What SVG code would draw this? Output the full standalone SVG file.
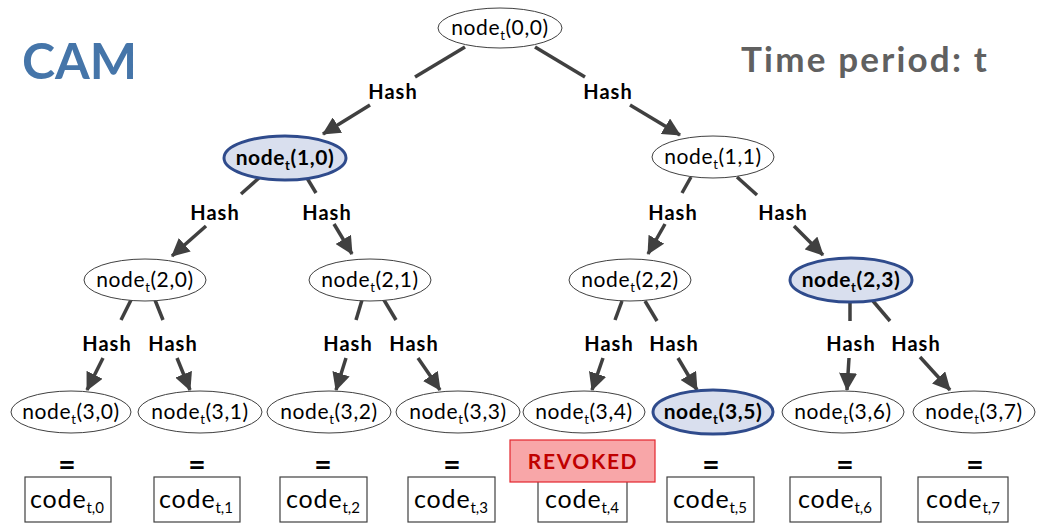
<svg xmlns="http://www.w3.org/2000/svg" width="1037" height="524" viewBox="0 0 1037 524">
  <style>
    .ell { fill: #ffffff; stroke: #404040; stroke-width: 1; }
    .hl { fill: #d9dfee; stroke: #2f4b8c; stroke-width: 3; }
    .nt { font-family: Lato, "Liberation Sans", sans-serif; font-size: 21px; fill: #000; text-anchor: middle; letter-spacing: 0.6px; }
    .nb { font-family: Lato, "Liberation Sans", sans-serif; font-size: 21px; font-weight: bold; fill: #000; text-anchor: middle; letter-spacing: 0.6px; }
    .sub { font-size: 13px; }
    .lbl { font-family: Lato, "Liberation Sans", sans-serif; font-size: 20px; font-weight: bold; fill: #000; text-anchor: middle; letter-spacing: 1px; }
    .eq { font-family: Lato, "Liberation Sans", sans-serif; font-size: 30px; font-weight: bold; fill: #000; text-anchor: middle; }
    .box { fill: #ffffff; stroke: #404040; stroke-width: 1.2; }
    .ct { font-family: Lato, "Liberation Sans", sans-serif; font-size: 25px; fill: #000; text-anchor: middle; letter-spacing: 0.8px; }
    .cs { font-size: 15px; letter-spacing: 0; }
    .edge { stroke: #404040; stroke-width: 3.5; fill: none; }
    .arr { stroke: #404040; stroke-width: 3.5; fill: none; marker-end: url(#head); }
  </style>
  <defs>
    <marker id="head" markerUnits="userSpaceOnUse" markerWidth="20" markerHeight="18" refX="17" refY="9" orient="auto">
      <path d="M0,0 L18,9 L0,18 z" fill="#404040"/>
    </marker>
  </defs>

  <rect width="1037" height="524" fill="#ffffff"/>

  <!-- headings -->
  <text x="22" y="79" font-family="Lato, 'Liberation Sans', sans-serif" font-size="50" font-weight="bold" fill="#4575a9">CAM</text>
  <text x="741" y="72" font-family="Lato, 'Liberation Sans', sans-serif" font-size="35" font-weight="bold" fill="#606060" letter-spacing="2.2">Time period: t</text>

  <!-- connectors -->
  <g id="connectors">
    <!-- level 0 to 1 -->
    <line class="edge" x1="465" y1="47" x2="415" y2="77"/>
    <line class="arr" x1="370" y1="105" x2="323" y2="134"/>
    <text class="lbl" x="393" y="99">Hash</text>
    <line class="edge" x1="535" y1="47" x2="585" y2="77"/>
    <line class="arr" x1="630" y1="105" x2="680" y2="135"/>
    <text class="lbl" x="608" y="99">Hash</text>

    <!-- level 1 to 2 -->
    <line class="edge" x1="259" y1="178" x2="241" y2="194"/>
    <line class="arr" x1="206" y1="226" x2="172" y2="256"/>
    <text class="lbl" x="215" y="220">Hash</text>
    <line class="edge" x1="307" y1="178" x2="316" y2="193"/>
    <line class="arr" x1="334" y1="224" x2="352" y2="254"/>
    <text class="lbl" x="327" y="220">Hash</text>
    <line class="edge" x1="691" y1="177" x2="682" y2="193"/>
    <line class="arr" x1="665" y1="224" x2="648" y2="254"/>
    <text class="lbl" x="673" y="220">Hash</text>
    <line class="edge" x1="737" y1="177" x2="757" y2="195"/>
    <line class="arr" x1="794" y1="226" x2="823" y2="255"/>
    <text class="lbl" x="783" y="220">Hash</text>

    <!-- level 2 to 3 -->
    <line class="edge" x1="131" y1="300" x2="121" y2="320"/>
    <line class="arr" x1="103" y1="358" x2="87" y2="390"/>
    <text class="lbl" x="107" y="351">Hash</text>
    <line class="edge" x1="155" y1="300" x2="163" y2="320"/>
    <line class="arr" x1="177" y1="358" x2="190" y2="390"/>
    <text class="lbl" x="173" y="351">Hash</text>
    <line class="edge" x1="362" y1="300" x2="356" y2="320"/>
    <line class="arr" x1="346" y1="358" x2="336" y2="390"/>
    <text class="lbl" x="348" y="351">Hash</text>
    <line class="edge" x1="384" y1="300" x2="396" y2="320"/>
    <line class="arr" x1="418" y1="358" x2="440" y2="390"/>
    <text class="lbl" x="414" y="351">Hash</text>
    <line class="edge" x1="622" y1="301" x2="615" y2="320"/>
    <line class="arr" x1="603" y1="358" x2="592" y2="390"/>
    <text class="lbl" x="609" y="351">Hash</text>
    <line class="edge" x1="645" y1="301" x2="657" y2="321"/>
    <line class="arr" x1="678" y1="358" x2="697" y2="390"/>
    <text class="lbl" x="674" y="351">Hash</text>
    <line class="edge" x1="850" y1="301" x2="850" y2="321"/>
    <line class="arr" x1="849" y1="358" x2="847" y2="390"/>
    <text class="lbl" x="851" y="351">Hash</text>
    <line class="edge" x1="873" y1="301" x2="890" y2="321"/>
    <line class="arr" x1="920" y1="357" x2="950" y2="390"/>
    <text class="lbl" x="916" y="351">Hash</text>
  </g>

  <!-- tree nodes -->
  <g id="n00"><ellipse class="ell" cx="500" cy="28" rx="62" ry="20"/><text class="nt" x="500" y="35">node<tspan class="sub" dy="5">t</tspan><tspan dy="-5">(0,0)</tspan></text></g>
  <g id="n10"><ellipse class="hl" cx="285" cy="158" rx="61" ry="22"/><text class="nb" x="285" y="165">node<tspan class="sub" dy="5">t</tspan><tspan dy="-5">(1,0)</tspan></text></g>
  <g id="n11"><ellipse class="ell" cx="713" cy="157" rx="61" ry="21"/><text class="nt" x="713" y="164">node<tspan class="sub" dy="5">t</tspan><tspan dy="-5">(1,1)</tspan></text></g>

  <g id="n20"><ellipse class="ell" cx="145" cy="280" rx="61" ry="21"/><text class="nt" x="145" y="287">node<tspan class="sub" dy="5">t</tspan><tspan dy="-5">(2,0)</tspan></text></g>
  <g id="n21"><ellipse class="ell" cx="370" cy="280" rx="61" ry="21"/><text class="nt" x="370" y="287">node<tspan class="sub" dy="5">t</tspan><tspan dy="-5">(2,1)</tspan></text></g>
  <g id="n22"><ellipse class="ell" cx="630" cy="280" rx="61" ry="21"/><text class="nt" x="630" y="287">node<tspan class="sub" dy="5">t</tspan><tspan dy="-5">(2,2)</tspan></text></g>
  <g id="n23"><ellipse class="hl" cx="851" cy="280" rx="61" ry="22"/><text class="nb" x="851" y="287">node<tspan class="sub" dy="5">t</tspan><tspan dy="-5">(2,3)</tspan></text></g>

  <g id="n30"><ellipse class="ell" cx="71" cy="412" rx="60" ry="21"/><text class="nt" x="71" y="419">node<tspan class="sub" dy="5">t</tspan><tspan dy="-5">(3,0)</tspan></text></g>
  <g id="n31"><ellipse class="ell" cx="200" cy="412" rx="62" ry="21"/><text class="nt" x="200" y="419">node<tspan class="sub" dy="5">t</tspan><tspan dy="-5">(3,1)</tspan></text></g>
  <g id="n32"><ellipse class="ell" cx="329" cy="412" rx="62" ry="21"/><text class="nt" x="329" y="419">node<tspan class="sub" dy="5">t</tspan><tspan dy="-5">(3,2)</tspan></text></g>
  <g id="n33"><ellipse class="ell" cx="458" cy="412" rx="62" ry="21"/><text class="nt" x="458" y="419">node<tspan class="sub" dy="5">t</tspan><tspan dy="-5">(3,3)</tspan></text></g>
  <g id="n34"><ellipse class="ell" cx="584" cy="412" rx="61" ry="21"/><text class="nt" x="584" y="419">node<tspan class="sub" dy="5">t</tspan><tspan dy="-5">(3,4)</tspan></text></g>
  <g id="n35"><ellipse class="hl" cx="713" cy="412" rx="60" ry="22"/><text class="nb" x="713" y="419">node<tspan class="sub" dy="5">t</tspan><tspan dy="-5">(3,5)</tspan></text></g>
  <g id="n36"><ellipse class="ell" cx="843" cy="412" rx="61" ry="21"/><text class="nt" x="843" y="419">node<tspan class="sub" dy="5">t</tspan><tspan dy="-5">(3,6)</tspan></text></g>
  <g id="n37"><ellipse class="ell" cx="974" cy="412" rx="61" ry="21"/><text class="nt" x="974" y="419">node<tspan class="sub" dy="5">t</tspan><tspan dy="-5">(3,7)</tspan></text></g>

  <!-- equals signs -->
  <g id="equals">
    <text class="eq" x="67" y="475">=</text>
    <text class="eq" x="197" y="475">=</text>
    <text class="eq" x="323" y="475">=</text>
    <text class="eq" x="452" y="475">=</text>
    <text class="eq" x="711" y="475">=</text>
    <text class="eq" x="845" y="475">=</text>
    <text class="eq" x="975" y="475">=</text>
  </g>

  <!-- leaf codes -->
  <g id="c0"><rect class="box" x="25" y="477" width="86" height="45"/><text class="ct" x="67" y="508">code<tspan class="cs" dy="5">t,0</tspan></text></g>
  <g id="c1"><rect class="box" x="154" y="477" width="86" height="45"/><text class="ct" x="196" y="508">code<tspan class="cs" dy="5">t,1</tspan></text></g>
  <g id="c2"><rect class="box" x="280" y="477" width="87" height="45"/><text class="ct" x="323" y="508">code<tspan class="cs" dy="5">t,2</tspan></text></g>
  <g id="c3"><rect class="box" x="408" y="477" width="87" height="45"/><text class="ct" x="451" y="508">code<tspan class="cs" dy="5">t,3</tspan></text></g>
  <g id="c4"><rect class="box" x="538" y="477" width="89" height="45"/><text class="ct" x="582" y="508">code<tspan class="cs" dy="5">t,4</tspan></text></g>
  <g id="c5"><rect class="box" x="667" y="477" width="87" height="45"/><text class="ct" x="710" y="508">code<tspan class="cs" dy="5">t,5</tspan></text></g>
  <g id="c6"><rect class="box" x="790" y="477" width="91" height="45"/><text class="ct" x="835" y="508">code<tspan class="cs" dy="5">t,6</tspan></text></g>
  <g id="c7"><rect class="box" x="918" y="477" width="90" height="45"/><text class="ct" x="963" y="508">code<tspan class="cs" dy="5">t,7</tspan></text></g>

  <!-- revocation flag -->
  <g id="revoked">
    <rect x="510" y="440" width="145" height="42" fill="#f8a6a8" stroke="#e3262e" stroke-width="1.2"/>
    <text x="583" y="469" font-family="Lato, 'Liberation Sans', sans-serif" font-size="21" font-weight="bold" fill="#c00000" text-anchor="middle" letter-spacing="1.6">REVOKED</text>
  </g>
</svg>
